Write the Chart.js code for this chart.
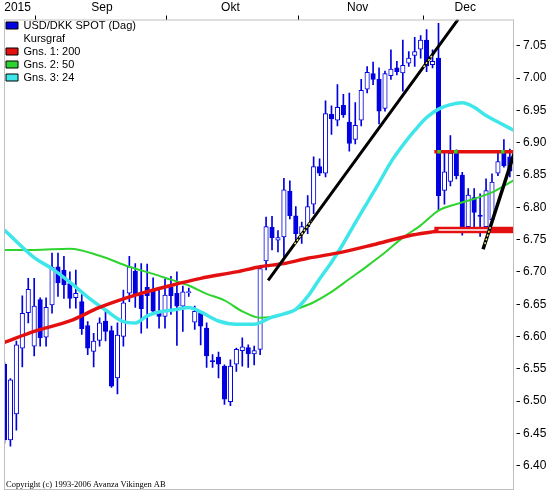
<!DOCTYPE html>
<html>
<head>
<meta charset="utf-8">
<script src="https://cdn.jsdelivr.net/npm/chart.js@4.4.1/dist/chart.umd.min.js"></script>
<style>
  body { margin: 0; background: #fff; }
  #wrap { width: 549px; height: 494px; }
</style>
</head>
<body>
<div id="wrap"><canvas id="kurs"></canvas></div>
<script>
// USD/DKK dagskurser (24. aug - 21. dec 2015)
const opens = [6.557, 6.440, 6.480, 6.582, 6.637, 6.585, 6.657, 6.599, 6.649, 6.708,
  6.703, 6.682, 6.660, 6.654, 6.617, 6.577, 6.594, 6.624, 6.609, 6.536,
  6.600, 6.667, 6.701, 6.664, 6.676, 6.670, 6.636, 6.631, 6.676, 6.667,
  6.647, 6.668, 6.622, 6.636, 6.613, 6.562, 6.568, 6.554, 6.499, 6.557,
  6.578, 6.583, 6.573, 6.580, 6.717, 6.769, 6.749, 6.754, 6.825, 6.787,
  6.759, 6.770, 6.805, 6.863, 6.853, 6.944, 6.935, 6.958, 6.932, 6.905,
  6.935, 6.983, 7.007, 6.998, 6.953, 7.004, 7.016, 7.008, 7.023, 7.035,
  7.045, 7.059, 7.021, 7.031, 6.826, 6.840, 6.886, 6.850, 6.770, 6.815,
  6.787, 6.770, 6.781, 6.853, 6.886, 6.878];
const highs = [6.560, 6.535, 6.593, 6.663, 6.690, 6.690, 6.660, 6.660, 6.729, 6.729,
  6.724, 6.700, 6.703, 6.665, 6.623, 6.605, 6.629, 6.639, 6.616, 6.621,
  6.672, 6.724, 6.713, 6.713, 6.712, 6.691, 6.675, 6.689, 6.693, 6.700,
  6.678, 6.675, 6.647, 6.639, 6.621, 6.572, 6.576, 6.556, 6.564, 6.582,
  6.598, 6.587, 6.585, 6.709, 6.785, 6.786, 6.764, 6.845, 6.841, 6.801,
  6.777, 6.818, 6.878, 6.875, 6.965, 6.957, 6.990, 6.975, 6.977, 6.962,
  6.998, 7.018, 7.025, 7.016, 7.011, 7.044, 7.026, 7.059, 7.041, 7.063,
  7.066, 7.075, 7.044, 7.085, 6.887, 6.911, 6.889, 6.854, 6.829, 6.829,
  6.821, 6.844, 6.852, 6.887, 6.905, 6.890];
const lows = [6.435, 6.430, 6.455, 6.553, 6.621, 6.570, 6.585, 6.585, 6.636, 6.662,
  6.659, 6.644, 6.644, 6.603, 6.572, 6.553, 6.585, 6.593, 6.521, 6.511,
  6.585, 6.654, 6.645, 6.605, 6.613, 6.634, 6.613, 6.613, 6.634, 6.586,
  6.608, 6.662, 6.611, 6.587, 6.552, 6.552, 6.536, 6.495, 6.493, 6.546,
  6.554, 6.552, 6.556, 6.572, 6.703, 6.734, 6.731, 6.723, 6.782, 6.744,
  6.744, 6.759, 6.790, 6.849, 6.847, 6.913, 6.926, 6.939, 6.887, 6.898,
  6.926, 6.977, 6.990, 6.929, 6.949, 6.998, 7.005, 6.980, 7.018, 7.018,
  7.031, 7.010, 7.016, 6.795, 6.805, 6.833, 6.844, 6.757, 6.767, 6.767,
  6.755, 6.764, 6.775, 6.849, 6.862, 6.847];
const closes = [6.440, 6.533, 6.587, 6.636, 6.673, 6.647, 6.598, 6.645, 6.707, 6.683,
  6.680, 6.659, 6.667, 6.612, 6.582, 6.593, 6.621, 6.608, 6.523, 6.602,
  6.652, 6.708, 6.666, 6.643, 6.663, 6.639, 6.631, 6.664, 6.663, 6.647,
  6.669, 6.669, 6.639, 6.616, 6.570, 6.561, 6.557, 6.503, 6.554, 6.580,
  6.584, 6.573, 6.578, 6.705, 6.770, 6.753, 6.753, 6.827, 6.787, 6.759,
  6.770, 6.801, 6.863, 6.853, 6.945, 6.937, 6.955, 6.943, 6.899, 6.927,
  6.981, 7.009, 6.998, 6.949, 7.007, 7.014, 7.010, 7.020, 7.031, 7.041,
  7.059, 7.019, 7.026, 6.818, 6.855, 6.884, 6.849, 6.770, 6.819, 6.792,
  6.786, 6.826, 6.839, 6.871, 6.864, 6.856];

// glidende gennemsnit (dag-nr. og kurs)
const ma200Days = [0, 5, 11, 16, 22, 28, 33, 39, 43, 47, 51, 57, 62, 68, 72, 75, 80, 85.7];
const ma200 = [6.591, 6.608, 6.624, 6.645, 6.664, 6.679, 6.690, 6.700, 6.708, 6.713,
  6.721, 6.731, 6.742, 6.756, 6.762, 6.766, 6.767, 6.767];
const ma50Days = [0, 5, 11, 16, 21, 25, 28, 31, 34, 37, 40, 43, 46, 49, 52, 55, 58, 61,
  64, 67, 70, 73, 76, 79, 82, 85.7];
const ma50 = [6.734, 6.734, 6.736, 6.725, 6.708, 6.697, 6.688, 6.679, 6.666, 6.656,
  6.639, 6.629, 6.632, 6.642, 6.653, 6.669, 6.689, 6.709, 6.730, 6.753,
  6.772, 6.795, 6.805, 6.813, 6.823, 6.842];
const ma24Days = [0, 2, 5, 8, 11, 14, 17, 20, 22, 24, 26, 29, 31, 33, 36, 39, 42, 45, 47,
  49, 51, 53, 55, 57, 59, 61, 63, 65, 67, 69, 71, 73, 75, 77, 79, 81, 83, 85.7];
const ma24 = [6.765, 6.747, 6.722, 6.705, 6.684, 6.661, 6.641, 6.623, 6.621, 6.632,
  6.638, 6.642, 6.645, 6.638, 6.624, 6.619, 6.619, 6.630, 6.635, 6.642,
  6.662, 6.689, 6.715, 6.744, 6.776, 6.807, 6.838, 6.870, 6.896, 6.919,
  6.939, 6.952, 6.959, 6.962, 6.955, 6.942, 6.932, 6.919];

// kursgraf: trendlinjer, modstand og støtte
const trendUpDays = [44.35, 76.3];
const trendUp = [6.687, 7.091];
const trendDecDays = [80.5, 85.7];
const trendDec = [6.735, 6.883];
const dashADays = [48.8, 51.6];
const dashA = [6.743, 6.779];
const dashBDays = [70.5, 72.0];
const dashB = [7.017, 7.036];
const dashCDays = [80.8, 81.8];
const dashC = [6.743, 6.772];
const levelDays = [72.3, 85.7];
const bandInnerDays = [73, 81.5];
const resistance = 6.886;
const support = 6.765;
const touchDays = [73.1, 75.9, 83.8];

// akser
const monthTickDays = [5.3, 27.3, 49.4, 70.5];
const monthLabelDays = [2.2, 16.4, 38.0, 59.4, 77.5];
const monthLabels = ['2015', 'Sep', 'Okt', 'Nov', 'Dec'];
const priceTicks = [6.40, 6.45, 6.50, 6.55, 6.60, 6.65, 6.70, 6.75, 6.80, 6.85, 6.90, 6.95, 7.00, 7.05];
const seriesNames = ['USD/DKK SPOT (Dag)', 'Kursgraf', 'Gns. 1: 200', 'Gns. 2: 50', 'Gns. 3: 24'];

const BLUE = '#0000e0';
const RED = '#e41010';
const GREEN = '#2ed42e';
const CYAN = '#3ee6ea';
const YELLOW = '#f4f070';
const legendColors = [BLUE, null, RED, GREEN, CYAN];
const X_MIN = -0.08, X_MAX = 85.7;
const FONT = '"Liberation Sans", Arial, sans-serif';

const pts = (xs, ys) => xs.map((x, i) => ({ x: x, y: ys[i] }));

function lineSet(data, color, width, order) {
    return {
        type: 'line', data: data, borderColor: color, borderWidth: width,
        pointRadius: 0, fill: false, order: order, clip: 0,
        cubicInterpolationMode: 'monotone'
    };
}

function dashSet(data) {
    const d = lineSet(data, YELLOW, 1.5, 0);
    d.borderDash = [2, 2];
    return d;
}

// akserne må ikke skubbe plotområdet ind
function fixSize(size) {
    return s => {
        if (s.isHorizontal()) s.height = size; else s.width = size;
        s.paddingTop = 0; s.paddingBottom = 0; s.paddingLeft = 0; s.paddingRight = 0;
    };
}

// ramme om plotområdet og copyright-tekst
const framePlugin = {
    id: 'frame',
    afterDatasetsDraw(chart) {
        const a = chart.chartArea, c = chart.ctx;
        c.save();
        c.strokeStyle = '#c0c0c0';
        c.lineWidth = 1;
        c.strokeRect(a.left + 0.5, a.top + 0.5, a.right - a.left - 1, a.bottom - a.top - 1);
        c.fillStyle = '#000';
        c.font = '8.5px "Liberation Serif", serif';
        c.textBaseline = 'alphabetic';
        c.fillText('Copyright (c) 1993-2006 Avanza Vikingen AB', a.left + 2, a.bottom - 3);
        c.restore();
    }
};

const ctx = document.getElementById('kurs').getContext('2d');
const chart = new Chart(ctx, {
    type: 'bar',
    data: {
        datasets: [
            {
                type: 'scatter', data: touchDays.map(d => ({ x: d, y: resistance })),
                pointStyle: 'rect', pointRadius: 2.5, backgroundColor: GREEN,
                borderWidth: 0, order: 0, clip: 0
            },
            dashSet(pts(dashADays, dashA)),
            dashSet(pts(dashBDays, dashB)),
            dashSet(pts(dashCDays, dashC)),
            lineSet(pts(trendUpDays, trendUp), '#000', 3, 1),
            lineSet(pts(trendDecDays, trendDec), '#000', 3.5, 1),
            lineSet(bandInnerDays.map(d => ({ x: d, y: support })), '#fff', 1.5, 2),
            lineSet(levelDays.map(d => ({ x: d, y: support })), RED, 6.5, 3),
            lineSet(levelDays.map(d => ({ x: d, y: resistance })), RED, 3.5, 3),
            lineSet(pts(ma200Days, ma200), RED, 3.5, 4),
            lineSet(pts(ma24Days, ma24), CYAN, 3.5, 5),
            lineSet(pts(ma50Days, ma50), GREEN, 2, 6),
            {
                label: seriesNames[0],
                data: opens.map((o, i) => ({ x: i, y: [o, closes[i]] })),
                backgroundColor: c => closes[c.dataIndex] >= opens[c.dataIndex] ? '#ffffff' : BLUE,
                borderColor: BLUE, borderWidth: 1, borderSkipped: false,
                barThickness: 4.5, minBarLength: 1, grouped: false, order: 7, clip: 0
            },
            {
                data: lows.map((l, i) => ({ x: i, y: [l, highs[i]] })),
                backgroundColor: BLUE, borderWidth: 0,
                barThickness: 1, grouped: false, order: 8, clip: 0
            }
        ]
    },
    options: {
        responsive: true,
        maintainAspectRatio: false,
        animation: false,
        events: [],
        layout: { padding: { left: 1, bottom: 1, top: 0, right: 0 } },
        scales: {
            x: {
                type: 'linear', position: 'top', min: X_MIN, max: X_MAX,
                offset: false, weight: 0,
                afterBuildTicks: s => { s.ticks = monthTickDays.map(v => ({ value: v })); },
                afterFit: fixSize(4.5),
                ticks: { display: false },
                grid: { offset: false, drawOnChartArea: false, tickLength: 4, color: '#000', tickColor: '#000' },
                border: { display: false }
            },
            x2: {
                type: 'linear', position: 'top', min: X_MIN, max: X_MAX,
                offset: false, weight: 1,
                afterBuildTicks: s => { s.ticks = monthLabelDays.map(v => ({ value: v })); },
                afterFit: fixSize(15),
                ticks: {
                    callback: (v, i) => monthLabels[i],
                    autoSkip: false, maxRotation: 0, padding: 0,
                    color: '#000', font: { family: FONT, size: 12 }
                },
                grid: { display: false, drawTicks: false, offset: false },
                border: { display: false }
            },
            y: {
                type: 'linear', position: 'right', min: 6.3623, max: 7.0908,
                afterBuildTicks: s => { s.ticks = priceTicks.map(v => ({ value: v })); },
                afterFit: fixSize(35),
                ticks: {
                    callback: v => v.toFixed(2), padding: 3,
                    color: '#000', font: { family: FONT, size: 12 }
                },
                grid: {
                    drawOnChartArea: false, tickLength: 6, color: '#000', tickColor: '#000',
                    tickBorderDash: [0, 2.5, 3.5, 0]
                },
                border: { display: false }
            }
        },
        plugins: {
            tooltip: { enabled: false },
            legend: {
                position: 'chartArea',
                align: 'start',
                onClick: null,
                title: { display: true, text: ' ', font: { size: 8, lineHeight: 1 }, padding: { top: 5, bottom: 5 } },
                labels: {
                    boxWidth: 12, boxHeight: 7, padding: 2, color: '#000',
                    font: { family: FONT, size: 11 },
                    generateLabels: () => seriesNames.map((name, i) => ({
                        text: name,
                        fillStyle: legendColors[i] || 'rgba(0,0,0,0)',
                        strokeStyle: legendColors[i] ? '#000' : 'rgba(0,0,0,0)',
                        lineWidth: legendColors[i] ? 1 : 0,
                        fontColor: '#000',
                        hidden: false
                    }))
                }
            }
        }
    },
    plugins: [framePlugin]
});
</script>
</body>
</html>
